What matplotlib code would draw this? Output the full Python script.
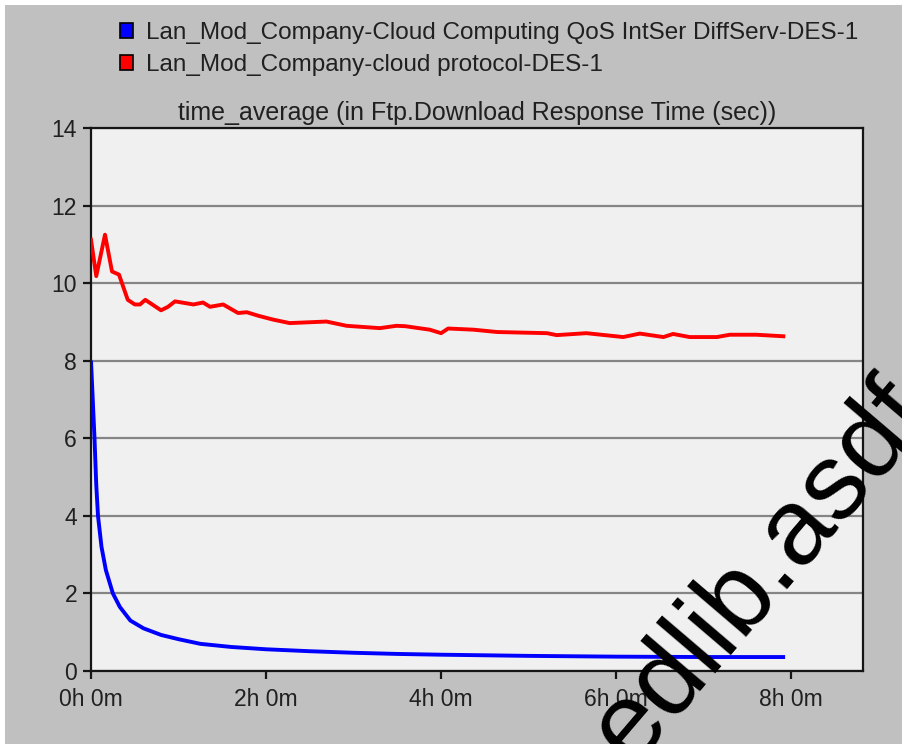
#!/usr/bin/env python3
"""Ftp download response time, time averaged, for two DES runs."""
import matplotlib
matplotlib.use("Agg")
import matplotlib.pyplot as plt
from matplotlib.patches import Patch, Rectangle

plt.rcParams['font.family'] = ['Liberation Sans', 'DejaVu Sans']

# sim time in hours, values in seconds
qos_hours = [0.0, 0.02, 0.04, 0.06, 0.08, 0.12, 0.17, 0.25, 0.33, 0.45, 0.6,
             0.8, 1.0, 1.25, 1.6, 2.0, 2.5, 3.0, 3.5, 4.0, 5.0, 6.0, 7.0, 7.93]
qos_resp = [8.0, 7.0, 6.0, 4.8, 4.0, 3.2, 2.6, 2.0, 1.65, 1.3, 1.1,
            0.93, 0.82, 0.7, 0.62, 0.56, 0.51, 0.47, 0.44, 0.42, 0.39, 0.37, 0.36, 0.36]

cloud_hours = [0.0, 0.06, 0.16, 0.24, 0.32, 0.42, 0.5, 0.56, 0.62, 0.8, 0.88,
               0.96, 1.17, 1.28, 1.36, 1.51, 1.68, 1.78, 1.91, 2.08, 2.27, 2.69,
               2.92, 3.3, 3.49, 3.59, 3.87, 4.0, 4.08, 4.37, 4.64, 5.21, 5.32,
               5.66, 6.08, 6.27, 6.54, 6.65, 6.84, 7.15, 7.3, 7.6, 7.91]
cloud_resp = [11.12, 10.18, 11.25, 10.3, 10.22, 9.57, 9.45, 9.45, 9.57, 9.3, 9.39,
              9.53, 9.45, 9.5, 9.39, 9.45, 9.23, 9.25, 9.16, 9.06, 8.97, 9.01,
              8.9, 8.84, 8.9, 8.89, 8.8, 8.71, 8.83, 8.8, 8.74, 8.71, 8.66,
              8.71, 8.61, 8.7, 8.61, 8.69, 8.61, 8.61, 8.67, 8.67, 8.63]

x_ticks = [0, 2, 4, 6, 8]
x_labels = ['0h 0m', '2h 0m', '4h 0m', '6h 0m', '8h 0m']
y_ticks = [0, 2, 4, 6, 8, 10, 12, 14]

names = ['Lan_Mod_Company-Cloud Computing QoS IntSer DiffServ-DES-1',
         'Lan_Mod_Company-cloud protocol-DES-1']
colors = ['#0000ff', '#ff0000']

fig = plt.figure(figsize=(9.02, 7.44), dpi=100, facecolor='white')
# grey panel behind everything, thin white margin top/left
fig.patches.append(Rectangle((5 / 902, 0), 1, 739 / 744, transform=fig.transFigure,
                             facecolor='#c0c0c0', edgecolor='none', zorder=-10))

ax = fig.add_axes([91 / 902, 73 / 744, 772 / 902, 543 / 744])
ax.set_facecolor('#f0f0f0')

ax.plot(qos_hours, qos_resp, color=colors[0], lw=2.8, solid_capstyle='butt', zorder=3)
ax.plot(cloud_hours, cloud_resp, color=colors[1], lw=2.8, zorder=3)

ax.set_xlim(0, 8.82)
ax.set_ylim(0, 14)
ax.set_xticks(x_ticks)
ax.set_xticklabels(x_labels)
ax.set_yticks(y_ticks)
ax.yaxis.grid(True, color='#858585', lw=1.6)
ax.set_axisbelow(True)
for s in ax.spines.values():
    s.set_linewidth(1.6)
    s.set_color('#151515')
ax.tick_params(axis='both', direction='out', length=6, width=1.6, color='#151515',
               labelsize=16.5, labelcolor='#202020')
ax.tick_params(axis='x', pad=6)
ax.tick_params(axis='y', pad=4)

ax.set_title('time_average (in Ftp.Download Response Time (sec))',
             fontsize=18, color='#202020', pad=6)

handles = [Patch(facecolor=c, edgecolor='black', lw=1.2) for c in colors]
fig.legend(handles, names, loc='upper left', bbox_to_anchor=(120 / 902, 1 - 22 / 744),
           frameon=False, fontsize=17.5, handlelength=0.55, handleheight=0.55,
           handletextpad=0.5, labelspacing=0.42, borderaxespad=0, borderpad=0,
           labelcolor='#202020')

# watermark
fig.text(782 / 902, 1 - 590 / 744, 'edlib.asdf', fontsize=78, color='black',
         rotation=49.5, rotation_mode='anchor', ha='center', va='baseline', zorder=20)

fig.savefig('out.png', dpi=100, facecolor=fig.get_facecolor())
